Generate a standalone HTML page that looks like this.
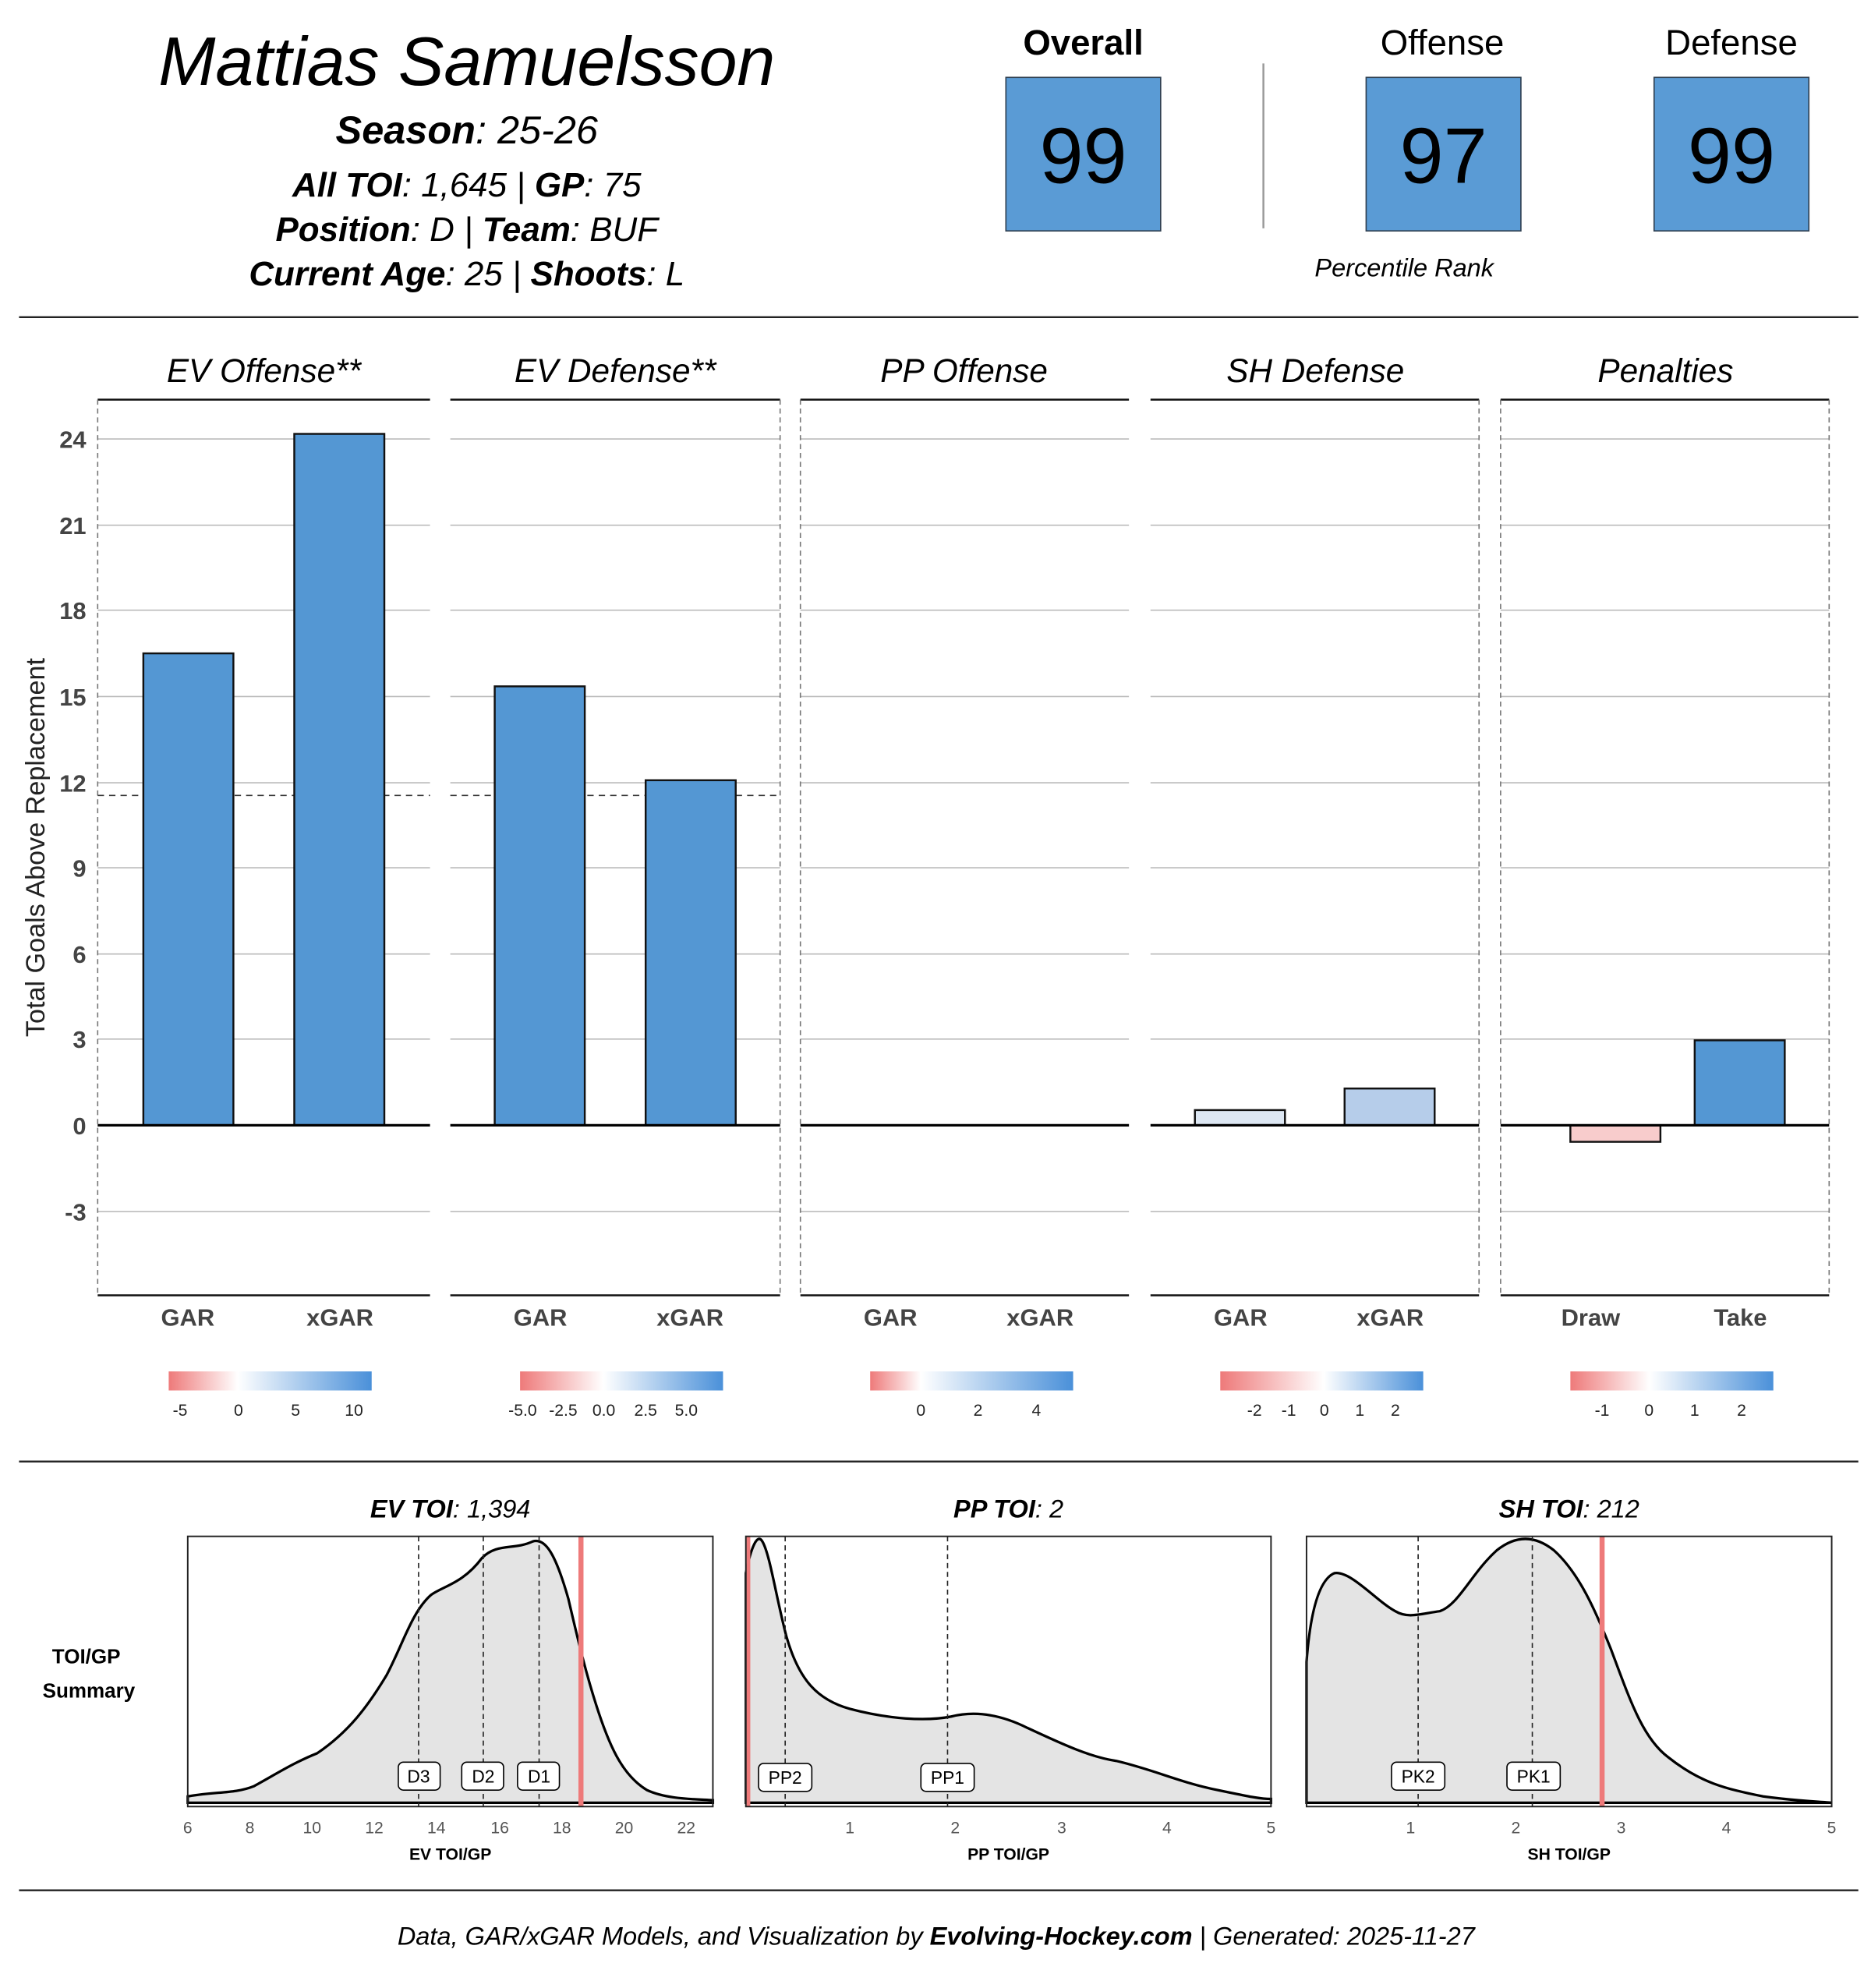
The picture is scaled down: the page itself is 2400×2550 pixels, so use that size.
<!DOCTYPE html>
<html><head><meta charset="utf-8"><style>
html,body{margin:0;padding:0;background:#fff;}
svg{display:block;}
text{font-family:"Liberation Sans",sans-serif;}
</style></head><body>
<svg width="2400" height="2550" viewBox="0 0 1475 1567" preserveAspectRatio="none" xmlns="http://www.w3.org/2000/svg">
<defs>
<linearGradient id="g1" x1="0" x2="1"><stop offset="0" stop-color="#ee7a7a"/><stop offset="0.34" stop-color="#fff"/><stop offset="1" stop-color="#4a90d9"/></linearGradient>
<linearGradient id="g2" x1="0" x2="1"><stop offset="0" stop-color="#ee7a7a"/><stop offset="0.41" stop-color="#fff"/><stop offset="1" stop-color="#4a90d9"/></linearGradient>
<linearGradient id="g3" x1="0" x2="1"><stop offset="0" stop-color="#ee7a7a"/><stop offset="0.25" stop-color="#fff"/><stop offset="1" stop-color="#4a90d9"/></linearGradient>
<linearGradient id="g4" x1="0" x2="1"><stop offset="0" stop-color="#ee7a7a"/><stop offset="0.51" stop-color="#fff"/><stop offset="1" stop-color="#4a90d9"/></linearGradient>
<linearGradient id="g5" x1="0" x2="1"><stop offset="0" stop-color="#ee7a7a"/><stop offset="0.39" stop-color="#fff"/><stop offset="1" stop-color="#4a90d9"/></linearGradient>
</defs>
<rect width="1475" height="1567" fill="#fff"/>
<!-- Header -->
<text x="368" y="67" font-size="54" font-style="italic" text-anchor="middle">Mattias Samuelsson</text>
<text x="368" y="113" font-size="31" font-style="italic" text-anchor="middle"><tspan font-weight="bold">Season</tspan>: 25-26</text>
<text x="368" y="155" font-size="27" font-style="italic" text-anchor="middle"><tspan font-weight="bold">All TOI</tspan>: 1,645 | <tspan font-weight="bold">GP</tspan>: 75</text>
<text x="368" y="190" font-size="27" font-style="italic" text-anchor="middle"><tspan font-weight="bold">Position</tspan>: D | <tspan font-weight="bold">Team</tspan>: BUF</text>
<text x="368" y="225" font-size="27" font-style="italic" text-anchor="middle"><tspan font-weight="bold">Current Age</tspan>: 25 | <tspan font-weight="bold">Shoots</tspan>: L</text>
<text x="854" y="43" font-size="28" font-weight="bold" text-anchor="middle">Overall</text>
<text x="1137" y="43" font-size="28" text-anchor="middle">Offense</text>
<text x="1365" y="43" font-size="28" text-anchor="middle">Defense</text>
<g fill="#5a9bd5" stroke="#2f3f50" stroke-width="1">
<rect x="793" y="61" width="122" height="121"/>
<rect x="1077" y="61" width="122" height="121"/>
<rect x="1304" y="61" width="122" height="121"/>
</g>
<g font-size="62" text-anchor="middle"><text x="854" y="144">99</text><text x="1138" y="144">97</text><text x="1365" y="144">99</text></g>
<line x1="996" y1="50" x2="996" y2="180" stroke="#999" stroke-width="1.5"/>
<text x="1107" y="218" font-size="20" font-style="italic" text-anchor="middle">Percentile Rank</text>
<line x1="15" y1="250" x2="1465" y2="250" stroke="#222" stroke-width="1.5"/>

<!-- Panel titles -->
<g font-size="26" font-style="italic" text-anchor="middle">
<text x="208" y="301">EV Offense**</text>
<text x="485" y="301">EV Defense**</text>
<text x="760" y="301">PP Offense</text>
<text x="1037" y="301">SH Defense</text>
<text x="1313" y="301">Penalties</text>
</g>
<!-- gridlines -->
<g stroke="#bbb" stroke-width="1">
<path d="M77 346H339M355 346H615M631 346H890M907 346H1166M1183 346H1442"/>
<path d="M77 414H339M355 414H615M631 414H890M907 414H1166M1183 414H1442"/>
<path d="M77 481H339M355 481H615M631 481H890M907 481H1166M1183 481H1442"/>
<path d="M77 549H339M355 549H615M631 549H890M907 549H1166M1183 549H1442"/>
<path d="M77 617H339M355 617H615M631 617H890M907 617H1166M1183 617H1442"/>
<path d="M77 684H339M355 684H615M631 684H890M907 684H1166M1183 684H1442"/>
<path d="M77 752H339M355 752H615M631 752H890M907 752H1166M1183 752H1442"/>
<path d="M77 819H339M355 819H615M631 819H890M907 819H1166M1183 819H1442"/>
<path d="M77 955H339M355 955H615M631 955H890M907 955H1166M1183 955H1442"/>
</g>
<!-- panel top/bottom lines -->
<g stroke="#111" stroke-width="1.5">
<path d="M77 315H339M355 315H615M631 315H890M907 315H1166M1183 315H1442"/>
<path d="M77 1021H339M355 1021H615M631 1021H890M907 1021H1166M1183 1021H1442"/>
</g>
<!-- dashed verticals -->
<g stroke="#777" stroke-width="1" stroke-dasharray="4,3">
<path d="M77 315V1021M615 315V1021M631 315V1021M1166 315V1021M1183 315V1021M1442 315V1021"/>
</g>
<!-- dashed average line -->
<path d="M77 627H339M355 627H615" stroke="#333" stroke-width="1" stroke-dasharray="5,4"/>
<!-- bars -->
<g stroke="#111" stroke-width="1.5">
<rect x="113" y="515" width="71" height="372" fill="#5497d3"/>
<rect x="232" y="342" width="71" height="545" fill="#5497d3"/>
<rect x="390" y="541" width="71" height="346" fill="#5497d3"/>
<rect x="509" y="615" width="71" height="272" fill="#5497d3"/>
<rect x="942" y="875" width="71" height="12" fill="#dde7f3"/>
<rect x="1060" y="858" width="71" height="29" fill="#b6cdea"/>
<rect x="1238" y="887" width="71" height="13" fill="#f8cccc"/>
<rect x="1336" y="820" width="71" height="67" fill="#5497d3"/>
</g>
<path d="M77 887H339M355 887H615M631 887H890M907 887H1166M1183 887H1442" stroke="#000" stroke-width="2"/>
<!-- y tick labels -->
<g font-size="19" font-weight="bold" fill="#444" text-anchor="end">
<text x="68" y="353">24</text><text x="68" y="421">21</text><text x="68" y="488">18</text>
<text x="68" y="556">15</text><text x="68" y="624">12</text><text x="68" y="691">9</text>
<text x="68" y="759">6</text><text x="68" y="826">3</text><text x="68" y="894">0</text><text x="68" y="962">-3</text>
</g>
<text transform="translate(35,668) rotate(-90)" font-size="21" text-anchor="middle" fill="#222">Total Goals Above Replacement</text>
<!-- x labels -->
<g font-size="19" font-weight="bold" fill="#444" text-anchor="middle">
<text x="148" y="1045">GAR</text><text x="268" y="1045">xGAR</text>
<text x="426" y="1045">GAR</text><text x="544" y="1045">xGAR</text>
<text x="702" y="1045">GAR</text><text x="820" y="1045">xGAR</text>
<text x="978" y="1045">GAR</text><text x="1096" y="1045">xGAR</text>
<text x="1254" y="1045">Draw</text><text x="1372" y="1045">Take</text>
</g>
<!-- color bars -->
<rect x="133" y="1081" width="160" height="15" fill="url(#g1)"/>
<rect x="410" y="1081" width="160" height="15" fill="url(#g2)"/>
<rect x="686" y="1081" width="160" height="15" fill="url(#g3)"/>
<rect x="962" y="1081" width="160" height="15" fill="url(#g4)"/>
<rect x="1238" y="1081" width="160" height="15" fill="url(#g5)"/>
<g font-size="13" fill="#222" text-anchor="middle">
<text x="142" y="1116">-5</text><text x="188" y="1116">0</text><text x="233" y="1116">5</text><text x="279" y="1116">10</text>
<text x="412" y="1116">-5.0</text><text x="444" y="1116">-2.5</text><text x="476" y="1116">0.0</text><text x="509" y="1116">2.5</text><text x="541" y="1116">5.0</text>
<text x="726" y="1116">0</text><text x="771" y="1116">2</text><text x="817" y="1116">4</text>
<text x="989" y="1116">-2</text><text x="1016" y="1116">-1</text><text x="1044" y="1116">0</text><text x="1072" y="1116">1</text><text x="1100" y="1116">2</text>
<text x="1263" y="1116">-1</text><text x="1300" y="1116">0</text><text x="1336" y="1116">1</text><text x="1373" y="1116">2</text>
</g>
<line x1="15" y1="1152" x2="1465" y2="1152" stroke="#222" stroke-width="1.5"/>

<!-- TOI section -->
<g font-size="20" font-style="italic" text-anchor="middle">
<text x="355" y="1196"><tspan font-weight="bold">EV TOI</tspan>: 1,394</text>
<text x="795" y="1196"><tspan font-weight="bold">PP TOI</tspan>: 2</text>
<text x="1237" y="1196"><tspan font-weight="bold">SH TOI</tspan>: 212</text>
</g>
<g font-size="16" font-weight="bold" text-anchor="middle">
<text x="68" y="1311">TOI/GP</text><text x="70" y="1338">Summary</text>
</g>
<!-- EV -->
<path d="M148 1416 C170 1412 185 1414 200 1408 C215 1400 230 1390 250 1382 C275 1365 290 1345 305 1320 C318 1295 325 1270 340 1257 C350 1250 365 1248 380 1228 C392 1216 405 1222 420 1215 C430 1212 438 1225 448 1260 C455 1290 462 1320 472 1350 C482 1380 492 1400 510 1411 C525 1418 545 1418 562 1419 L562 1421 L148 1421 Z" fill="#e4e4e4" stroke="#000" stroke-width="2"/>
<path d="M330 1211V1424M381 1211V1424M425 1211V1424" stroke="#222" stroke-width="1" stroke-dasharray="4,3"/>
<line x1="458" y1="1211" x2="458" y2="1424" stroke="#ee7a7a" stroke-width="4"/>
<g fill="#fff" stroke="#000" stroke-width="1"><rect x="314" y="1389" width="33" height="22" rx="4"/><rect x="364" y="1389" width="33" height="22" rx="4"/><rect x="408" y="1389" width="33" height="22" rx="4"/></g>
<g font-size="14" text-anchor="middle"><text x="330" y="1405">D3</text><text x="381" y="1405">D2</text><text x="425" y="1405">D1</text></g>
<rect x="148" y="1211" width="414" height="213" fill="none" stroke="#222" stroke-width="1.2"/>
<!-- PP -->
<path d="M588 1240 C592 1220 597 1208 601 1215 C607 1225 612 1260 620 1290 C630 1325 645 1340 670 1347 C700 1355 730 1357 750 1353 C770 1348 790 1352 810 1362 C840 1376 860 1385 880 1388 C910 1395 930 1405 960 1411 C980 1415 992 1418 1002 1418 L1002 1421 L588 1421 Z" fill="#e4e4e4" stroke="#000" stroke-width="2"/>
<path d="M619 1211V1424M747 1211V1424" stroke="#222" stroke-width="1" stroke-dasharray="4,3"/>
<line x1="590" y1="1211" x2="590" y2="1424" stroke="#ee7a7a" stroke-width="3"/>
<g fill="#fff" stroke="#000" stroke-width="1"><rect x="598" y="1390" width="42" height="22" rx="4"/><rect x="726" y="1390" width="42" height="22" rx="4"/></g>
<g font-size="14" text-anchor="middle"><text x="619" y="1406">PP2</text><text x="747" y="1406">PP1</text></g>
<rect x="588" y="1211" width="414" height="213" fill="none" stroke="#222" stroke-width="1.2"/>
<!-- SH -->
<path d="M1030 1310 C1033 1270 1040 1245 1052 1240 C1065 1238 1085 1262 1100 1270 C1110 1276 1120 1272 1135 1270 C1150 1265 1160 1240 1180 1222 C1195 1210 1210 1210 1225 1222 C1245 1240 1258 1270 1270 1300 C1285 1340 1295 1370 1315 1385 C1340 1405 1360 1410 1390 1416 C1420 1420 1435 1420 1444 1421 L1444 1421 L1030 1421 Z" fill="#e4e4e4" stroke="#000" stroke-width="2"/>
<path d="M1118 1211V1424M1208 1211V1424" stroke="#222" stroke-width="1" stroke-dasharray="4,3"/>
<line x1="1263" y1="1211" x2="1263" y2="1424" stroke="#ee7a7a" stroke-width="4"/>
<g fill="#fff" stroke="#000" stroke-width="1"><rect x="1097" y="1389" width="42" height="22" rx="4"/><rect x="1188" y="1389" width="42" height="22" rx="4"/></g>
<g font-size="14" text-anchor="middle"><text x="1118" y="1405">PK2</text><text x="1209" y="1405">PK1</text></g>
<rect x="1030" y="1211" width="414" height="213" fill="none" stroke="#222" stroke-width="1.2"/>
<!-- x ticks -->
<g font-size="13" fill="#555" text-anchor="middle">
<text x="148" y="1445">6</text><text x="197" y="1445">8</text><text x="246" y="1445">10</text><text x="295" y="1445">12</text><text x="344" y="1445">14</text><text x="394" y="1445">16</text><text x="443" y="1445">18</text><text x="492" y="1445">20</text><text x="541" y="1445">22</text>
<text x="670" y="1445">1</text><text x="753" y="1445">2</text><text x="837" y="1445">3</text><text x="920" y="1445">4</text><text x="1002" y="1445">5</text>
<text x="1112" y="1445">1</text><text x="1195" y="1445">2</text><text x="1278" y="1445">3</text><text x="1361" y="1445">4</text><text x="1444" y="1445">5</text>
</g>
<g font-size="13" font-weight="bold" text-anchor="middle">
<text x="355" y="1466">EV TOI/GP</text><text x="795" y="1466">PP TOI/GP</text><text x="1237" y="1466">SH TOI/GP</text>
</g>
<line x1="15" y1="1490" x2="1465" y2="1490" stroke="#222" stroke-width="1.5"/>
<text x="738" y="1533" font-size="20" font-style="italic" text-anchor="middle">Data, GAR/xGAR Models, and Visualization by <tspan font-weight="bold">Evolving-Hockey.com</tspan> | Generated: 2025-11-27</text>
</svg>
</body></html>
